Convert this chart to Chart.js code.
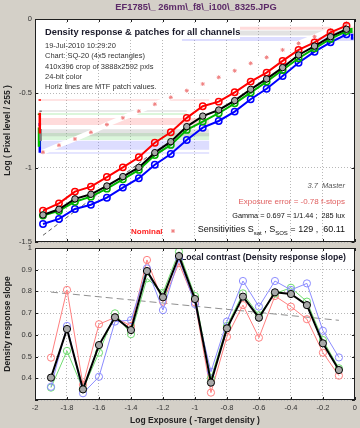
<!doctype html>
<html>
<head>
<meta charset="utf-8">
<title>Density response</title>
<script src="https://cdn.jsdelivr.net/npm/chart.js@4.4.1/dist/chart.umd.min.js"></script>
<style>
	body { margin: 0; background: #d4d0c8; }
	.wrap { position: relative; width: 360px; height: 428px; overflow: hidden; }
	canvas { position: absolute; left: 0; }
	#top { top: 0; }
	#bottom { top: 236px; }
</style>
</head>
<body>
<div class="wrap">
	<canvas id="top" width="360" height="250"></canvas>
	<canvas id="bottom" width="360" height="192"></canvas>
</div>
<script>
// patch positions (log exposure) and pixel levels per channel
var patchX = [-1.95, -1.85, -1.75, -1.65, -1.55, -1.45, -1.35, -1.25, -1.15, -1.05,
	-0.95, -0.85, -0.75, -0.65, -0.55, -0.45, -0.35, -0.25, -0.15, -0.05];
var redLevel = [-1.289, -1.240, -1.161, -1.128, -1.063, -0.998, -0.930, -0.832, -0.762, -0.665,
	-0.587, -0.556, -0.493, -0.421, -0.361, -0.282, -0.208, -0.157, -0.090, -0.045];
var grayLevel = [-1.318, -1.280, -1.210, -1.179, -1.123, -1.060, -0.998, -0.899, -0.825, -0.724,
	-0.653, -0.612, -0.549, -0.473, -0.403, -0.327, -0.242, -0.182, -0.119, -0.069];
var greenLevel = [-1.322, -1.291, -1.229, -1.195, -1.141, -1.078, -1.015, -0.915, -0.847, -0.746,
	-0.690, -0.634, -0.567, -0.495, -0.421, -0.343, -0.264, -0.197, -0.134, -0.081];
var blueLevel = [-1.379, -1.345, -1.278, -1.249, -1.202, -1.134, -1.071, -0.980, -0.908, -0.814,
	-0.731, -0.686, -0.623, -0.540, -0.469, -0.383, -0.294, -0.220, -0.157, -0.103];
var nominalLevel = [-0.896, -0.849, -0.807, -0.762, -0.710, -0.665, -0.620, -0.573, -0.527, -0.482,
	-0.437, -0.392, -0.348, -0.298, -0.258, -0.208, -0.164, -0.119, -0.074, -0.029];

// gamma fit line (dashed)
var fitX = [-1.95, -1.3];
var fitY = [-1.455, -0.93];

// MTF patch value lines: channel, level, x range
var bandChannel = ['R', 'K', 'G', 'R', 'K', 'G', 'B', 'B', 'R', 'K', 'B'];
var bandLevel = [-0.545, -0.619, -0.639, -0.690, -0.765, -0.790, -0.850, -0.901, -0.062, -0.095, -0.135];
var bandFrom = [-1.97, -1.97, -1.97, -1.97, -1.97, -1.97, -1.97, -1.97, -1.08, -1.08, -1.08];
var bandTo = [-0.91, -1.05, -1.05, -0.91, -0.91, -0.91, -0.91, -0.91, 0, 0, 0];

// small patch marks at the edges
var markChannel = ['R', 'R', 'K', 'K', 'G', 'G', 'B', 'B', 'G', 'B'];
var markX = [-1.97, -1.97, -1.965, -1.965, -1.975, -1.975, -1.97, -1.97, -0.02, -0.015];
var markLow = [-0.55, -0.77, -0.625, -0.82, -0.645, -0.86, -0.72, -0.90, -0.095, -0.14];
var markHigh = [-0.54, -0.63, -0.615, -0.74, -0.635, -0.73, -0.70, -0.80, -0.06, -0.10];

// local contrast (slope)
var slopeX = [-1.9, -1.8, -1.7, -1.6, -1.5, -1.4, -1.3, -1.2, -1.1, -1.0,
	-0.9, -0.8, -0.7, -0.6, -0.5, -0.4, -0.3, -0.2, -0.1];
var graySlope = [0.403, 0.627, 0.349, 0.553, 0.681, 0.622, 0.894, 0.773, 0.963, 0.765,
	0.380, 0.630, 0.776, 0.679, 0.796, 0.788, 0.737, 0.561, 0.438];
var redSlope = [0.495, 0.807, 0.370, 0.649, 0.680, 0.641, 0.945, 0.753, 0.930, 0.750,
	0.334, 0.591, 0.737, 0.587, 0.779, 0.730, 0.672, 0.518, 0.412];
var greenSlope = [0.357, 0.526, 0.350, 0.518, 0.699, 0.603, 0.860, 0.794, 0.983, 0.779,
	0.400, 0.641, 0.791, 0.690, 0.790, 0.817, 0.753, 0.576, 0.446];
var blueSlope = [0.361, 0.641, 0.331, 0.407, 0.661, 0.668, 0.906, 0.714, 0.952, 0.742,
	0.430, 0.661, 0.848, 0.730, 0.848, 0.807, 0.837, 0.619, 0.496];
var trendX = [-1.9, -0.1];
var trendY = [0.797, 0.667];

var FONT = "'Liberation Sans', Arial, sans-serif";
var bandColors = { R: 'rgba(255,110,110,0.25)', K: 'rgba(150,150,150,0.28)', G: 'rgba(110,220,110,0.25)', B: 'rgba(120,120,255,0.25)' };
var markColors = { R: '#ff0000', K: '#808080', G: '#00c000', B: '#0000ff' };
var bandWidths = [1.5, 1.5, 2, 7, 7, 7, 9, 1.5, 3, 5, 4];

function pts(xs, ys) {
	return xs.map(function (x, i) { return { x: x, y: ys[i] }; });
}

function text(ctx, s, x, y, font, color, align) {
	ctx.font = font;
	ctx.fillStyle = color;
	ctx.textAlign = align || 'left';
	ctx.textBaseline = 'middle';
	ctx.fillText(s, x, y);
}

function star(ctx, x, y, r, color) {
	ctx.save();
	ctx.strokeStyle = color;
	ctx.lineWidth = 1;
	ctx.beginPath();
	for (var k = 0; k < 4; k++) {
		var a = k * Math.PI / 4;
		ctx.moveTo(x - r * Math.cos(a), y - r * Math.sin(a));
		ctx.lineTo(x + r * Math.cos(a), y + r * Math.sin(a));
	}
	ctx.stroke();
	ctx.restore();
}

// white plot area, dark frame and inward ticks
var framePlugin = {
	id: 'frame',
	beforeDraw: function (chart) {
		var a = chart.chartArea, ctx = chart.ctx;
		ctx.save();
		ctx.fillStyle = '#ffffff';
		ctx.fillRect(a.left, a.top, a.right - a.left, a.bottom - a.top);
		ctx.restore();
	},
	afterDraw: function (chart) {
		var a = chart.chartArea, ctx = chart.ctx;
		ctx.save();
		ctx.strokeStyle = '#202020';
		ctx.lineWidth = 1;
		ctx.strokeRect(Math.round(a.left) + 0.5, Math.round(a.top) + 0.5,
			Math.round(a.right - a.left) - 1, Math.round(a.bottom - a.top) - 1);
		ctx.beginPath();
		chart.scales.x.ticks.forEach(function (t) {
			var px = Math.round(chart.scales.x.getPixelForValue(t.value)) + 0.5;
			ctx.moveTo(px, a.top); ctx.lineTo(px, a.top + 3);
			ctx.moveTo(px, a.bottom); ctx.lineTo(px, a.bottom - 3);
		});
		chart.scales.y.ticks.forEach(function (t) {
			var py = Math.round(chart.scales.y.getPixelForValue(t.value)) + 0.5;
			ctx.moveTo(a.left, py); ctx.lineTo(a.left + 3, py);
			ctx.moveTo(a.right, py); ctx.lineTo(a.right - 3, py);
		});
		ctx.stroke();
		ctx.restore();
	}
};

var topTextPlugin = {
	id: 'topText',
	afterDraw: function (chart) {
		var ctx = chart.ctx;
		ctx.save();
		text(ctx, 'EF1785\\_ 26mm\\_f8\\_i100\\_8325.JPG', 196, 7, 'bold 9.3px ' + FONT, '#5c2a68', 'center');

		ctx.fillStyle = '#ffffff';
		ctx.fillRect(43, 25, 197, 14);
		text(ctx, 'Density response & patches for all channels', 45, 32, 'bold 9.3px ' + FONT, '#1a1a2a');
		var info = ['19-Jul-2010 10:29:20', 'Chart: SQ-20 (4x5 rectangles)', '410x396 crop of 3888x2592 pxls',
			'24-bit color', 'Horiz lines are MTF patch values.'];
		info.forEach(function (s, i) {
			text(ctx, s, 45, 46 + i * 10.3, '7.5px ' + FONT, '#333333');
		});

		text(ctx, '3.7  Master', 345, 186, 'italic 7.5px ' + FONT, '#555555', 'right');
		text(ctx, 'Exposure error = -0.78 f-stops', 345, 202, '8px ' + FONT, '#e06060', 'right');
		text(ctx, 'Gamma = 0.697 = 1/1.44 ;  285 lux', 345, 216, '7.3px ' + FONT, '#111111', 'right');

		// sensitivities line with subscripts
		var parts = [['Sensitivities S', 0], ['sat', 1], [' , S', 0], ['SOS', 1], [' = 129 ,  60.11', 0]];
		var big = '9px ' + FONT, small = '6px ' + FONT;
		var total = 0;
		parts.forEach(function (p) { ctx.font = p[1] ? small : big; total += ctx.measureText(p[0]).width; });
		var x = 345 - total;
		parts.forEach(function (p) {
			ctx.font = p[1] ? small : big;
			text(ctx, p[0], x, p[1] ? 233 : 230, ctx.font, '#111111');
			x += ctx.measureText(p[0]).width;
		});

		text(ctx, 'Nominal', 131, 232, 'bold 8px ' + FONT, '#ff2020');
		star(ctx, 173, 231, 2, '#f08080');
		ctx.restore();
	}
};

var bottomTextPlugin = {
	id: 'bottomText',
	beforeDatasetsDraw: function (chart) {
		var ctx = chart.ctx;
		ctx.save();
		text(ctx, 'Local contrast (Density response slope)', 346, 258 - 236, 'bold 8.7px ' + FONT, '#1a1a2a', 'right');
		ctx.restore();
	}
};

var gridOpts = { color: '#b8b8b8', drawTicks: false };
var borderOpts = { display: false, dash: [1, 2] };
var tickFont = { family: FONT, size: 7.5 };

// top chart datasets
var topSets = [];
bandLevel.forEach(function (lv, i) {
	topSets.push({
		data: pts([bandFrom[i], bandTo[i]], [lv, lv]),
		borderColor: bandColors[bandChannel[i]], borderWidth: bandWidths[i],
		pointRadius: 0, order: 20
	});
});
markLow.forEach(function (lo, i) {
	topSets.push({
		data: pts([markX[i], markX[i]], [lo, markHigh[i]]),
		borderColor: markColors[markChannel[i]], borderWidth: 2.5,
		pointRadius: 0, order: 15
	});
});
topSets.push({
	data: pts(patchX, nominalLevel), borderColor: '#ffffff', borderWidth: 5,
	pointStyle: 'star', pointRadius: 2, pointBorderColor: '#f08080', pointBorderWidth: 1,
	pointBackgroundColor: '#f08080', order: 12
});
topSets.push({
	data: pts(fitX, fitY), borderColor: '#606060', borderWidth: 1, borderDash: [4, 3],
	pointRadius: 0, order: 11
});
[[blueLevel, '#0000ff'], [greenLevel, '#00b400'], [redLevel, '#ff0000']].forEach(function (c, i) {
	topSets.push({
		data: pts(patchX, c[0]), borderColor: c[1], borderWidth: 2,
		pointRadius: 3.2, pointBorderWidth: 1.5, pointBorderColor: c[1],
		pointBackgroundColor: 'rgba(255,255,255,0)', order: 5 - i
	});
});
topSets.push({
	data: pts(patchX, grayLevel), borderColor: '#000000', borderWidth: 2,
	pointRadius: 3.2, pointBorderWidth: 1, pointBorderColor: '#000000',
	pointBackgroundColor: '#a8a8a8', order: 1
});

new Chart(document.getElementById('top'), {
	type: 'line',
	data: { datasets: topSets },
	options: {
		responsive: false, animation: false,
		layout: { padding: { top: 19, right: 3, bottom: 8, left: 0 } },
		plugins: { legend: { display: false }, tooltip: { enabled: false } },
		scales: {
			x: {
				type: 'linear', min: -2, max: 0,
				ticks: { display: false, stepSize: 0.2 },
				grid: gridOpts, border: borderOpts,
				afterFit: function (s) { s.height = 0; }
			},
			y: {
				min: -1.5, max: 0,
				ticks: {
					stepSize: 0.5, padding: 3, color: '#333333', font: tickFont,
					callback: function (v) { return String(Math.round(v * 10) / 10); }
				},
				grid: gridOpts, border: borderOpts,
				title: { display: true, text: 'Log ( Pixel level / 255 )', color: '#222222',
					font: { family: FONT, size: 8.5, weight: 'bold' }, padding: { top: 3, bottom: 0 } },
				afterFit: function (s) { s.width = 35; }
			}
		}
	},
	plugins: [framePlugin, topTextPlugin]
});

// bottom chart datasets
var bottomSets = [{
	data: pts(trendX, trendY), borderColor: '#909090', borderWidth: 1, borderDash: [7, 4],
	pointRadius: 0, order: 10
}];
[[redSlope, '#ff8080'], [greenSlope, '#70dd70'], [blueSlope, '#8c8cff']].forEach(function (c, i) {
	bottomSets.push({
		data: pts(slopeX, c[0]), borderColor: c[1], borderWidth: 1,
		pointRadius: 3.6, pointBorderWidth: 1, pointBorderColor: c[1],
		pointBackgroundColor: 'rgba(255,255,255,0)', order: 5 - i
	});
});
bottomSets.push({
	data: pts(slopeX, graySlope), borderColor: '#000000', borderWidth: 2,
	pointRadius: 3.6, pointBorderWidth: 1, pointBorderColor: '#000000',
	pointBackgroundColor: '#a8a8a8', order: 1
});

new Chart(document.getElementById('bottom'), {
	type: 'line',
	data: { datasets: bottomSets },
	options: {
		responsive: false, animation: false,
		layout: { padding: { top: 12, right: 3, bottom: 0, left: 0 } },
		plugins: { legend: { display: false }, tooltip: { enabled: false } },
		scales: {
			x: {
				type: 'linear', min: -2, max: 0,
				ticks: {
					stepSize: 0.2, padding: 3, color: '#333333', font: tickFont, maxRotation: 0,
					callback: function (v) { return String(Math.round(v * 10) / 10); }
				},
				grid: gridOpts, border: borderOpts,
				title: { display: true, text: 'Log Exposure ( -Target density )', color: '#222222',
					font: { family: FONT, size: 8.5, weight: 'bold' }, padding: { top: 0, bottom: 2 } },
				afterFit: function (s) { s.height = 28; }
			},
			y: {
				min: 0.3, max: 1,
				ticks: {
					stepSize: 0.1, padding: 3, color: '#333333', font: tickFont,
					callback: function (v) { return v < 0.35 ? '' : String(Math.round(v * 10) / 10); }
				},
				grid: gridOpts, border: borderOpts,
				title: { display: true, text: 'Density response slope', color: '#222222',
					font: { family: FONT, size: 8.5, weight: 'bold' }, padding: { top: 3, bottom: 0 } },
				afterFit: function (s) { s.width = 35; }
			}
		}
	},
	plugins: [framePlugin, bottomTextPlugin]
});
</script>
</body>
</html>
